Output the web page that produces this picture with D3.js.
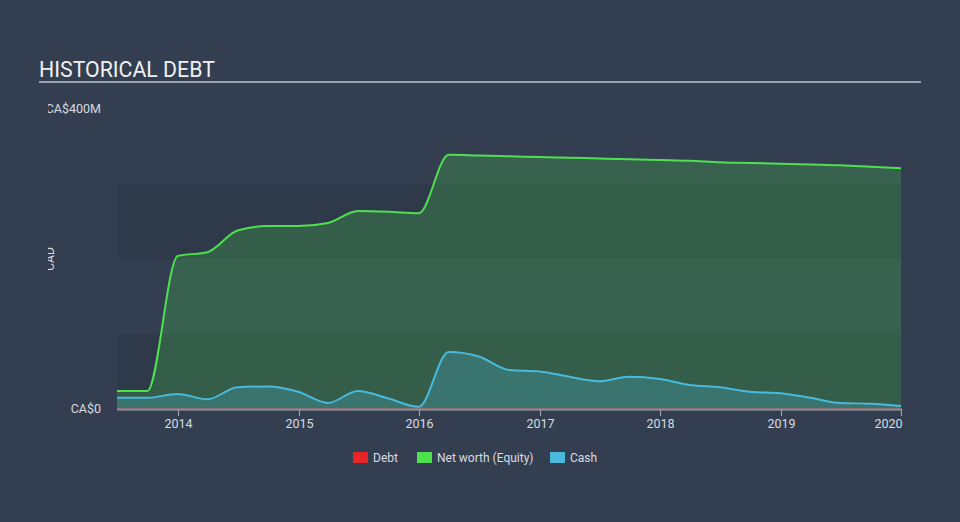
<!DOCTYPE html>
<html><head><meta charset="utf-8">
<script src="https://cdn.jsdelivr.net/npm/d3@7"></script>
<style>
html,body{margin:0;padding:0;background:#333f50;}
svg{display:block;font-family:Roboto, "Open Sans", sans-serif;}
</style></head>
<body>
<script>
const dates = ["2013-06-30","2013-09-30","2013-12-31","2014-03-31","2014-06-30","2014-09-30","2014-12-31",
"2015-03-31","2015-06-30","2015-09-30","2015-12-31","2016-03-31","2016-06-30","2016-09-30","2016-12-31",
"2017-03-31","2017-06-30","2017-09-30","2017-12-31","2018-03-31","2018-06-30","2018-09-30","2018-12-31",
"2019-03-31","2019-06-30","2019-09-30","2019-12-31"];
const netWorth = [24,24,204,209,238,244,244,248,264,263,261,339,338,337,336,335,334,333,332,331,329,328,327,326,325,323,321];
const cash = [15,15,20,13,29,30,23,8,24,14,3,76,70,52,50,43,37,43,40,32,29,23,21,15,8,7,4];
const debt = dates.map(()=>0);
const yTicks = [0,400];
const yTickLabels = ["CA$0","CA$400M"];
const xTickYears = [2014,2015,2016,2017,2018,2019,2020];
const legendItems = [{name:"Debt",color:"#e8262a"},{name:"Net worth (Equity)",color:"#4fe04f"},{name:"Cash",color:"#49b9dc"}];

const W=960,H=522;
const parse=d3.timeParse("%Y-%m-%d");
const dd=dates.map(parse);
const svg=d3.select("body").append("svg").attr("width",W).attr("height",H);
svg.append("rect").attr("width",W).attr("height",H).attr("fill","#333f50");

const x=d3.scaleTime().domain([dd[0],dd[dd.length-1]]).range([117,901]);
const y=d3.scaleLinear().domain([0,400]).range([409,109]);

// bands
[[0,100],[200,300]].forEach(b=>{
  svg.append("rect").attr("x",117).attr("width",784).attr("y",y(b[1])).attr("height",y(b[0])-y(b[1])).attr("fill","#2e3a4a");
});

// title
svg.append("text").attr("x",39).attr("y",77).attr("fill","#f0f0f0").attr("font-size",21.3).text("HISTORICAL DEBT");
svg.append("rect").attr("x",39).attr("y",81).attr("width",882).attr("height",2).attr("fill","#9aa3ad");

const curve=d3.curveMonotoneX;
const area=(vals)=>d3.area().x((d,i)=>x(dd[i])).y0(y(0)).y1((d)=>y(d)).curve(curve)(vals);
const line=(vals)=>d3.line().x((d,i)=>x(dd[i])).y((d)=>y(d)).curve(curve)(vals);

svg.append("path").attr("d",area(netWorth)).attr("fill","#4fe04f").attr("fill-opacity",0.22);
svg.append("path").attr("d",area(cash)).attr("fill","#49b9dc").attr("fill-opacity",0.25);

// x axis
const xa=svg.append("g");
xa.append("line").attr("x1",117).attr("x2",902).attr("y1",409.5).attr("y2",409.5).attr("stroke","#9aa3ad").attr("stroke-width",2);
xTickYears.forEach((yr,i)=>{
  const px=Math.round(x(new Date(yr,0,1)))+0.5;
  const last=i===xTickYears.length-1;
  xa.append("line").attr("x1",px).attr("x2",px).attr("y1",409).attr("y2",416).attr("stroke","#9aa3ad").attr("stroke-width",1.2);
  xa.append("text").attr("x",last?px+1:px).attr("y",428).attr("text-anchor",last?"end":"middle").attr("fill","#d8dce0").attr("font-size",12.5).text(yr);
});

svg.append("path").attr("d",line(debt)).attr("fill","none").attr("stroke","#e8262a").attr("stroke-opacity",0.55).attr("stroke-width",1);
svg.append("path").attr("d",line(netWorth)).attr("fill","none").attr("stroke","#4fe04f").attr("stroke-width",2);
svg.append("path").attr("d",line(cash)).attr("fill","none").attr("stroke","#49b9dc").attr("stroke-width",2);

// y labels (clipped at left)
svg.append("clipPath").attr("id","lc").append("rect").attr("x",48).attr("y",0).attr("width",200).attr("height",H);
const yl=svg.append("g").attr("clip-path","url(#lc)");
yTicks.forEach((t,i)=>{
  yl.append("text").attr("x",101).attr("y",y(t)+4).attr("text-anchor","end").attr("fill","#d8dce0").attr("font-size",12.5).text(yTickLabels[i]);
});
yl.append("text").attr("transform","translate(54,259) rotate(-90)").attr("text-anchor","middle").attr("fill","#d8dce0").attr("font-size",12).text("CAD");

// legend
const lg=svg.append("g");
const lx=[353,417,550];
legendItems.forEach((it,i)=>{
  lg.append("rect").attr("x",lx[i]).attr("y",452).attr("width",15).attr("height",11).attr("fill",it.color);
  lg.append("text").attr("x",lx[i]+20).attr("y",461.5).attr("fill","#d8dce0").attr("font-size",12).text(it.name);
});
</script>
</body></html>
